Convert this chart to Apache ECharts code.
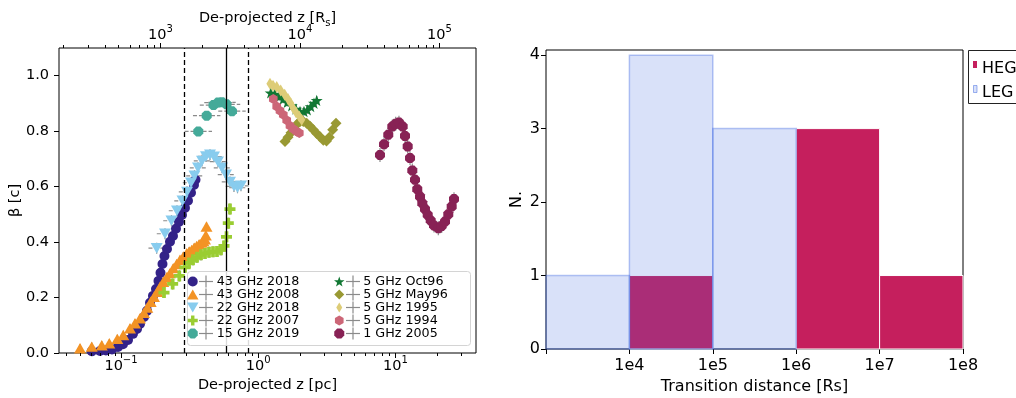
<!DOCTYPE html>
<html><head><meta charset="utf-8">
<script src="https://cdn.jsdelivr.net/npm/echarts@6/dist/echarts.min.js"></script>
<style>html,body{margin:0;padding:0;background:#fff}#c{width:1016px;height:398px}</style>
</head><body><div id="c"></div>
<script>
// ---------------- LEFT PANEL DATA (x: de-projected z [pc], y: beta [c]) ----------------
const z43_2018 = [0.0612,0.0703,0.0777,0.0860,0.0951,0.1034,0.1125,0.1223,0.1308,0.1375,0.1471,0.1547,0.1627,0.1710,0.1799,0.1876,0.1940,0.2006,0.2074,0.2163,0.2275,0.2392,0.2516,0.2646,0.2782,0.2925,0.3077,0.3236,0.3402,0.3490];
const b43_2018 = [0.006,0.007,0.009,0.013,0.022,0.032,0.047,0.069,0.087,0.105,0.130,0.152,0.181,0.206,0.231,0.260,0.289,0.321,0.350,0.375,0.401,0.422,0.448,0.473,0.498,0.523,0.549,0.578,0.606,0.625];
const z43_2008 = [0.0503,0.0612,0.0724,0.0822,0.0940,0.1039,0.1163,0.1265,0.1375,0.1471,0.1555,0.1646,0.1739,0.1838,0.1924,0.2033,0.2153,0.2275,0.2404,0.2545,0.2691,0.2844,0.3011,0.3140,0.3275,0.3415,0.3560,0.3710,0.3873,0.3980,0.4093,0.4150,0.4198];
const b43_2008 = [0.017,0.023,0.028,0.035,0.051,0.065,0.089,0.107,0.125,0.145,0.164,0.185,0.203,0.221,0.239,0.257,0.273,0.288,0.306,0.321,0.336,0.348,0.360,0.366,0.372,0.380,0.386,0.392,0.398,0.404,0.410,0.425,0.456];
const z22_2018 = [0.1820,0.2092,0.2332,0.2558,0.2806,0.3027,0.3236,0.3430,0.3639,0.3892,0.4162,0.4451,0.4761,0.5090,0.5444,0.5821,0.6224,0.6656,0.7061,0.7486];
const b22_2018 = [0.378,0.430,0.477,0.513,0.549,0.581,0.614,0.639,0.668,0.693,0.709,0.715,0.708,0.690,0.668,0.643,0.617,0.601,0.596,0.603];
const z22_2007 = [0.2057,0.2379,0.2660,0.2925,0.3129,0.3346,0.3578,0.3827,0.4093,0.4377,0.4681,0.5006,0.5354,0.5628,0.5870,0.6050,0.6224];
const b22_2007 = [0.218,0.249,0.278,0.309,0.325,0.336,0.345,0.354,0.359,0.363,0.365,0.366,0.372,0.386,0.419,0.468,0.519];
const z15_2019 = [0.3657,0.4211,0.4721,0.5090,0.5444,0.5870,0.6437];
const b15_2019 = [0.799,0.856,0.894,0.903,0.904,0.897,0.872];
const z5_oct96 = [1.232,1.324,1.424,1.522,1.628,1.753,1.884,2.015,2.154,2.277,2.411,2.548,2.667];
const b5_oct96 = [0.938,0.934,0.925,0.916,0.904,0.892,0.880,0.871,0.871,0.877,0.889,0.901,0.911];
const z5_may96 = [1.566,1.647,1.732,1.822,1.916,2.015,2.129,2.254,2.383,2.518,2.667,2.818,2.978,3.144,3.294,3.486,3.686];
const b5_may96 = [0.763,0.778,0.794,0.810,0.825,0.835,0.835,0.829,0.818,0.805,0.792,0.780,0.767,0.765,0.778,0.805,0.829];
const z5_1995 = [1.218,1.281,1.363,1.457,1.558,1.647,1.723,1.800,1.884,1.991,2.073];
const b5_1995 = [0.971,0.964,0.959,0.947,0.931,0.916,0.901,0.883,0.868,0.853,0.841];
const z5_1994 = [1.287,1.363,1.440,1.522,1.612,1.703,1.800,1.906,1.991];
const b5_1994 = [0.916,0.889,0.874,0.859,0.839,0.820,0.808,0.799,0.793];
const z1_2005 = [7.71,8.25,8.86,9.48,10.03,10.60,11.28,11.73,12.27,12.76,13.26,13.87,14.41,15.09,15.68,16.40,17.17,18.05,19.08,20.51,21.71,22.95,24.25,25.67,26.69];
const b1_2005 = [0.714,0.753,0.787,0.817,0.827,0.831,0.817,0.783,0.745,0.703,0.658,0.625,0.591,0.564,0.540,0.519,0.498,0.478,0.460,0.450,0.458,0.474,0.500,0.528,0.555];

const vLinesPc = [0.2925, 0.579, 0.852];
const pcMajorTicks = [0.1, 1, 10];
const pcMinorTicks = [0.04,0.05,0.06,0.07,0.08,0.09,0.2,0.3,0.4,0.5,0.6,0.7,0.8,0.9,2,3,4,5,6,7,8,9,20,30];
const rsMajorTicks = [1e3, 1e4, 1e5];
const rsMinorTicks = [200,300,400,500,600,700,800,900,2000,3000,4000,5000,6000,7000,8000,9000,20000,30000,40000,50000,60000,70000,80000,90000];

// ---------------- RIGHT PANEL DATA ----------------
const binEdges = [1e3, 1e4, 1e5, 1e6, 1e7, 1e8];
const hegCounts = [0, 1, 0, 3, 1];
const legCounts = [1, 4, 3, 0, 0];

// ---------------- STYLE ----------------
const FONT = 'DejaVu Sans';
const SYM = {
  triUp: 'path://M5,0L10,8.7H0Z',
  triDown: 'path://M0,0H10L5,8.7Z',
  plus: 'path://M3.3,0H6.7V3.3H10V6.7H6.7V10H3.3V6.7H0V3.3H3.3Z',
  oct: 'path://M2.93,0H7.07L10,2.93V7.07L7.07,10H2.93L0,7.07V2.93Z',
  star: 'path://M5,0L6.18,3.45H9.76L6.9,5.6L7.94,9.05L5,7L2.06,9.05L3.1,5.6L0.24,3.45H3.82Z',
  diam: 'path://M5,0L10,5L5,10L0,5Z',
  thinDiam: 'path://M3,0L6,5L3,10L0,5Z',
  hex: 'path://M5,0L9.33,2.5V7.5L5,10L0.67,7.5V2.5Z',
  circ: 'path://M5,0A5,5,0,1,1,4.99,0Z'
};
const meta = [
  {name:'43 GHz 2018', x:z43_2018, y:b43_2018, color:'#332288', sym:SYM.circ, size:10, eY:0.01},
  {name:'43 GHz 2008', x:z43_2008, y:b43_2008, color:'#f39325', sym:SYM.triUp, size:12, eY:0.015},
  {name:'22 GHz 2018', x:z22_2018, y:b22_2018, color:'#88ccee', sym:SYM.triDown, size:12, eY:0.02, eX:0.06, dash:true},
  {name:'22 GHz 2007', x:z22_2007, y:b22_2007, color:'#9acd32', sym:SYM.plus, size:11, eY:0.02, eX:0.03},
  {name:'15 GHz 2019', x:z15_2019, y:b15_2019, color:'#44aa99', sym:SYM.oct, size:10, eY:0.015, eX:0.1, dash:true},
  {name:'5 GHz Oct96', x:z5_oct96, y:b5_oct96, color:'#117733', sym:SYM.star, size:12, eY:0.015, eX:0.02},
  {name:'5 GHz May96', x:z5_may96, y:b5_may96, color:'#999933', sym:SYM.diam, size:11, eY:0.01, eX:0.02},
  {name:'5 GHz 1995', x:z5_1995, y:b5_1995, color:'#ddcc77', sym:SYM.thinDiam, size:12, eY:0.01, eX:0.02},
  {name:'5 GHz 1994', x:z5_1994, y:b5_1994, color:'#cc6677', sym:SYM.hex, size:10, eY:0.015, eX:0.02},
  {name:'1 GHz 2005', x:z1_2005, y:b1_2005, color:'#882255', sym:SYM.oct, size:10, eY:0.025, eX:0.01}
];

function powLabel(v) {
  const l = Math.log10(v), e = Math.round(l);
  if (Math.abs(l - e) > 1e-6) return '';
  return '{b|10}{s|' + (e < 0 ? '\u2212' : '') + Math.abs(e) + '}';
}
const powRich = {
  b: {fontFamily: FONT, fontSize: 14.5, color: '#000', lineHeight: 17, verticalAlign: 'bottom'},
  s: {fontFamily: FONT, fontSize: 10, color: '#000', lineHeight: 12, padding: [0, 0, 9, 0], verticalAlign: 'bottom'}
};

function errSeries(m) {
  return {
    type: 'custom', xAxisIndex: 0, yAxisIndex: 0, silent: true, clip: false,
    data: m.x.map((v, i) => [v, m.y[i]]),
    renderItem: function (params, api) {
      const x = api.value(0), y = api.value(1);
      const c = api.coord([x, y]);
      const t = api.coord([x, y + m.eY]), b = api.coord([x, y - m.eY]);
      const ch = [{type: 'line', shape: {x1: c[0], y1: t[1], x2: c[0], y2: b[1]}, style: {stroke: '#8a8a8a', lineWidth: 1.2}}];
      if (m.eX) {
        const f = Math.pow(10, m.eX);
        const l = api.coord([x / f, y]), r = api.coord([x * f, y]);
        ch.push({type: 'line', shape: {x1: l[0], y1: c[1], x2: r[0], y2: c[1]},
          style: {stroke: '#8a8a8a', lineWidth: 1.2, lineDash: m.dash ? [4, 2] : null}});
      }
      return {type: 'group', children: ch};
    }
  };
}
function tickSeries(xi, values, len, top) {
  return {
    type: 'custom', xAxisIndex: xi, yAxisIndex: 0, silent: true, clip: false, z: 6,
    data: values.map(v => [v, 0]),
    renderItem: function (params, api) {
      const cs = params.coordSys;
      const x = Math.round(api.coord([api.value(0), 0])[0]) + 0.5;
      const y0 = top ? cs.y : cs.y + cs.height;
      const y1 = top ? y0 - len : y0 + len;
      return {type: 'line', shape: {x1: x, y1: y0, x2: x, y2: y1}, style: {stroke: '#000', lineWidth: 1}};
    }
  };
}
function histSeries(name, counts, fill, stroke, lw) {
  return {
    type: 'custom', name: name, xAxisIndex: 2, yAxisIndex: 1, silent: true,
    itemStyle: {color: fill},
    encode: {x: [0, 1], y: 2},
    data: counts.map((n, i) => [binEdges[i], binEdges[i + 1], n]),
    renderItem: function (params, api) {
      const n = api.value(2);
      if (!n) return null;
      const p0 = api.coord([api.value(0), n]), p1 = api.coord([api.value(1), 0]);
      return {type: 'rect', shape: {x: p0[0], y: p0[1], width: p1[0] - p0[0], height: p1[1] - p0[1]},
        style: {fill: fill, stroke: stroke, lineWidth: lw}};
    }
  };
}

const series = [];
series.push({
  type: 'scatter', xAxisIndex: 0, yAxisIndex: 0, data: [], silent: true, z: 1,
  markLine: {silent: true, symbol: 'none', label: {show: false}, animation: false,
    data: vLinesPc.map((v, i) => ({xAxis: v, lineStyle: {color: '#000', width: 1.3, type: i === 1 ? 'solid' : [5, 3]}}))}
});
meta.forEach(m => {
  series.push(errSeries(m));
  series.push({
    type: 'scatter', name: m.name, xAxisIndex: 0, yAxisIndex: 0, silent: true,
    symbol: m.sym, symbolSize: m.size, symbolKeepAspect: true,
    itemStyle: {color: m.color, opacity: 1},
    data: m.x.map((v, i) => [v, m.y[i]])
  });
});
series.push(tickSeries(0, pcMajorTicks, 5, false));
series.push(tickSeries(0, pcMinorTicks, 3, false));
series.push(tickSeries(1, rsMajorTicks, 5, true));
series.push(tickSeries(1, rsMinorTicks, 3, true));
series.push(histSeries('HEG', hegCounts, '#c51f5d', '#ffffff', 1));
series.push(histSeries('LEG', legCounts, 'rgba(65,105,225,0.2)', 'rgba(65,105,225,0.38)', 1.5));

const graphics = [{type: 'rect', z: 10, shape: {x: 187.5, y: 271.5, width: 283, height: 74, r: 3},
  style: {fill: 'rgba(255,255,255,0.85)', stroke: '#d4d4d4', lineWidth: 1}}];
const legRowY = [281.5, 294.5, 307.5, 320.5, 333.5];
[206, 353].forEach(cx => legRowY.forEach(cy => {
  graphics.push({type: 'line', z: 11, shape: {x1: cx - 7, y1: cy, x2: cx + 7, y2: cy}, style: {stroke: '#8a8a8a', lineWidth: 1.2}});
  graphics.push({type: 'line', z: 11, shape: {x1: cx, y1: cy - 6, x2: cx, y2: cy + 6}, style: {stroke: '#8a8a8a', lineWidth: 1.2}});
}));
graphics.push({type: 'rect', z: 10, shape: {x: 968.5, y: 50.5, width: 60, height: 53}, style: {fill: '#fff', stroke: '#222', lineWidth: 1}});
graphics.push({type: 'rect', z: 11, shape: {x: 973, y: 61, width: 4, height: 7}, style: {fill: '#c51f5d'}});
graphics.push({type: 'rect', z: 11, shape: {x: 973.5, y: 85.5, width: 3.5, height: 7}, style: {fill: 'rgba(65,105,225,0.2)', stroke: 'rgba(65,105,225,0.5)', lineWidth: 1}});
graphics.push({type: 'text', z: 11, x: 982, y: 69, style: {text: 'HEG', font: '16px "DejaVu Sans"', fill: '#000', verticalAlign: 'middle'}});
graphics.push({type: 'text', z: 11, x: 982, y: 93, style: {text: 'LEG', font: '16px "DejaVu Sans"', fill: '#000', verticalAlign: 'middle'}});

function legendOpt(left, names) {
  return {
    left: left, top: 275, orient: 'vertical', itemGap: 0, itemWidth: 38, itemHeight: 10, padding: 0,
    symbolKeepAspect: true, selectedMode: false, z: 20,
    textStyle: {fontFamily: FONT, fontSize: 12.7, color: '#000', lineHeight: 13},
    data: names.map(n => { const m = meta.find(q => q.name === n); return {name: n, icon: m.sym, itemStyle: {color: m.color}}; })
  };
}

const option = {
  animation: false,
  backgroundColor: '#fff',
  textStyle: {fontFamily: FONT},
  grid: [
    {left: 59, top: 48, width: 417, height: 305, show: true, borderColor: '#000', borderWidth: 1, backgroundColor: 'transparent', outerBoundsMode: 'none'},
    {left: 546, top: 50, width: 417, height: 299, show: true, borderColor: '#000', borderWidth: 1, backgroundColor: 'transparent', outerBoundsMode: 'none'}
  ],
  xAxis: [
    {gridIndex: 0, type: 'log', logBase: 10, position: 'bottom', min: 0.03534, max: 38.6,
      axisLine: {show: false}, axisTick: {show: false}, splitLine: {show: false}, minorTick: {show: false},
      axisLabel: {formatter: powLabel, rich: powRich, margin: 4, showMinLabel: false, showMaxLabel: false},
      name: 'De-projected z [pc]', nameLocation: 'middle', nameGap: 25, nameMoveOverlap: false,
      nameTextStyle: {fontFamily: FONT, fontSize: 14.5, color: '#000'}},
    {gridIndex: 0, type: 'log', logBase: 10, position: 'top', min: 187.3, max: 182700,
      axisLine: {show: false}, axisTick: {show: false}, splitLine: {show: false},
      axisLabel: {formatter: powLabel, rich: powRich, margin: 5, showMinLabel: false, showMaxLabel: false},
      name: '{a|De-projected z [R}{sub|s}{a|]}', nameLocation: 'middle', nameGap: 20, nameMoveOverlap: false,
      nameTextStyle: {rich: {
        a: {fontFamily: FONT, fontSize: 14.5, color: '#000', lineHeight: 17, verticalAlign: 'top'},
        sub: {fontFamily: FONT, fontSize: 10, color: '#000', lineHeight: 12, padding: [7, 0, 0, 0], verticalAlign: 'top'}}}},
    {gridIndex: 1, type: 'log', logBase: 10, position: 'bottom', min: 1e3, max: 1e8,
      axisLine: {show: false}, splitLine: {show: false},
      axisTick: {show: true, inside: false, length: 5, lineStyle: {color: '#000', width: 1}},
      axisLabel: {formatter: v => { const e = Math.round(Math.log10(v)); return e <= 3 ? '' : '1e' + e; },
        showMinLabel: false, margin: 9, fontFamily: FONT, fontSize: 16, color: '#000'},
      name: 'Transition distance [Rs]', nameLocation: 'middle', nameGap: 30, nameMoveOverlap: false,
      nameTextStyle: {fontFamily: FONT, fontSize: 16, color: '#000'}}
  ],
  yAxis: [
    {gridIndex: 0, type: 'value', min: 0, max: 1.1, interval: 0.2,
      axisLine: {show: false}, splitLine: {show: false},
      axisTick: {show: true, inside: false, length: 5, lineStyle: {color: '#000', width: 1}},
      axisLabel: {formatter: v => v.toFixed(1), showMaxLabel: false, margin: 10, fontFamily: FONT, fontSize: 14.5, color: '#000'},
      name: '\u03b2 [c]', nameLocation: 'middle', nameGap: 36, nameRotate: 90, nameMoveOverlap: false,
      nameTextStyle: {fontFamily: FONT, fontSize: 14.5, color: '#000'}},
    {gridIndex: 1, type: 'value', min: 0, max: 4.07, interval: 1,
      axisLine: {show: false}, splitLine: {show: false},
      axisTick: {show: true, inside: false, length: 5, lineStyle: {color: '#000', width: 1}},
      axisLabel: {showMaxLabel: false, margin: 6, fontFamily: FONT, fontSize: 16, color: '#000'},
      name: 'N.', nameLocation: 'middle', nameGap: 21, nameRotate: 90, nameMoveOverlap: false,
      nameTextStyle: {fontFamily: FONT, fontSize: 16, color: '#000'}}
  ],
  legend: [
    legendOpt(187, ['43 GHz 2018', '43 GHz 2008', '22 GHz 2018', '22 GHz 2007', '15 GHz 2019']),
    legendOpt(334, ['5 GHz Oct96', '5 GHz May96', '5 GHz 1995', '5 GHz 1994', '1 GHz 2005'])
  ],
  graphic: {elements: graphics},
  series: series
};
const chart = echarts.init(document.getElementById('c'), null, {renderer: 'canvas'});
chart.setOption(option);
</script></body></html>
